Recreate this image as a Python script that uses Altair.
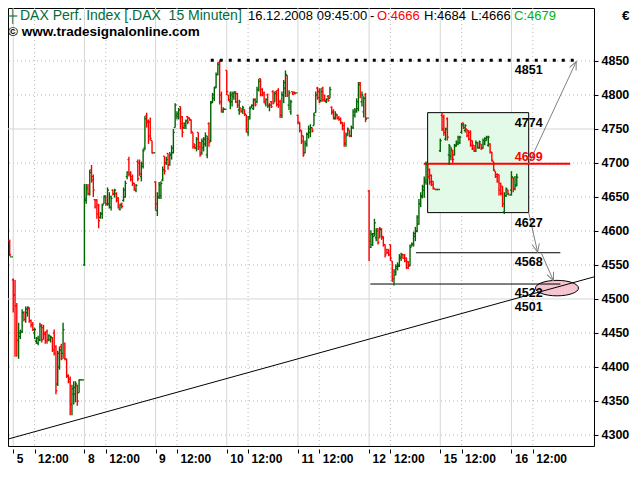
import math
import altair as alt
import pandas as pd

# ---------------- values ----------------
DAY_LABELS = ["5", "8", "9", "10", "11", "12", "15", "16"]
BARS_PER_DAY = 40          # 15-minute bars per session
NOON_BAR = 12              # 12:00 is 12 bars after 09:00

# (open, high, low, close)
PREV_DAY = [(4586, 4587, 4563, 4565), (4562, 4562, 4562, 4562)]

DEC05 = [
    (4528, 4530, 4480, 4506), (4506, 4528, 4415, 4490), (4490, 4494, 4415, 4439), (4439, 4465, 4412, 4450),
    (4445, 4455, 4441, 4452), (4452, 4485, 4450, 4480), (4480, 4482, 4467, 4470), (4470, 4489, 4465, 4485),
    (4480, 4489, 4474, 4488), (4486, 4488, 4465, 4468), (4468, 4470, 4458, 4462), (4462, 4466, 4453, 4455),
    (4450, 4458, 4441, 4455), (4438, 4444, 4434, 4442), (4435, 4446, 4432, 4440), (4440, 4465, 4438, 4460),
    (4462, 4463, 4436, 4440), (4458, 4462, 4440, 4450), (4448, 4452, 4434, 4438), (4452, 4455, 4434, 4440),
    (4440, 4448, 4438, 4446), (4440, 4446, 4436, 4444), (4443, 4444, 4422, 4425), (4450, 4455, 4417, 4420),
    (4430, 4432, 4360, 4365), (4375, 4424, 4372, 4420), (4400, 4430, 4396, 4425), (4430, 4434, 4410, 4412),
    (4420, 4465, 4412, 4455), (4434, 4436, 4410, 4412), (4412, 4412, 4384, 4386), (4388, 4389, 4376, 4378),
    (4382, 4386, 4329, 4345), (4345, 4374, 4329, 4368), (4360, 4379, 4345, 4370), (4360, 4379, 4348, 4375),
    (4372, 4374, 4343, 4350), (4362, 4382, 4362, 4381), (4381, 4381, 4381, 4381), (4381, 4381, 4381, 4381),
]
DEC08 = [
    (4550, 4669, 4549, 4647), (4645, 4669, 4640, 4662), (4665, 4669, 4652, 4655), (4655, 4690, 4652, 4686),
    (4690, 4697, 4671, 4675), (4680, 4683, 4650, 4660), (4646, 4647, 4633, 4635), (4645, 4647, 4618, 4625),
    (4638, 4640, 4604, 4615), (4620, 4628, 4618, 4626), (4625, 4640, 4618, 4638), (4640, 4652, 4640, 4650),
    (4652, 4652, 4637, 4640), (4640, 4664, 4637, 4660), (4640, 4657, 4633, 4650), (4635, 4652, 4630, 4648),
    (4660, 4661, 4652, 4654), (4655, 4662, 4649, 4660), (4655, 4657, 4642, 4645), (4648, 4650, 4633, 4635),
    (4632, 4640, 4630, 4638), (4640, 4642, 4633, 4636), (4645, 4664, 4643, 4660), (4650, 4674, 4649, 4670),
    (4680, 4688, 4676, 4686), (4705, 4709, 4680, 4683), (4685, 4688, 4673, 4676), (4680, 4683, 4666, 4670),
    (4670, 4671, 4659, 4662), (4660, 4669, 4657, 4667), (4702, 4705, 4673, 4677), (4700, 4705, 4681, 4684),
    (4680, 4702, 4673, 4699), (4695, 4721, 4692, 4718), (4722, 4769, 4719, 4765), (4770, 4774, 4752, 4760),
    (4762, 4764, 4728, 4740), (4760, 4767, 4733, 4736), (4733, 4733, 4714, 4715), (4715, 4715, 4715, 4715),
]
DEC09 = [
    (4672, 4673, 4630, 4640), (4630, 4657, 4622, 4650), (4650, 4672, 4647, 4668), (4652, 4673, 4647, 4670),
    (4675, 4695, 4673, 4690), (4710, 4710, 4683, 4688), (4700, 4709, 4697, 4705), (4714, 4714, 4690, 4697),
    (4698, 4716, 4696, 4712), (4712, 4726, 4705, 4722), (4715, 4750, 4714, 4745), (4752, 4788, 4752, 4785),
    (4770, 4776, 4764, 4772), (4768, 4781, 4764, 4778), (4783, 4783, 4750, 4758), (4768, 4769, 4738, 4745),
    (4752, 4760, 4750, 4758), (4755, 4764, 4750, 4762), (4768, 4769, 4757, 4760), (4766, 4767, 4762, 4763),
    (4764, 4764, 4743, 4746), (4745, 4745, 4721, 4724), (4728, 4728, 4721, 4722), (4722, 4738, 4717, 4735),
    (4745, 4745, 4719, 4724), (4730, 4731, 4709, 4712), (4715, 4736, 4712, 4732), (4722, 4738, 4717, 4735),
    (4728, 4745, 4724, 4740), (4712, 4740, 4707, 4735), (4758, 4760, 4724, 4730), (4733, 4791, 4731, 4788),
    (4790, 4803, 4788, 4800), (4795, 4812, 4791, 4810), (4812, 4833, 4810, 4830), (4830, 4848, 4829, 4845),
    (4848, 4851, 4786, 4790), (4800, 4805, 4774, 4778), (4775, 4782, 4774, 4779), (4779, 4779, 4779, 4779),
]
DEC10 = [
    (4836, 4836, 4800, 4805), (4800, 4800, 4791, 4793), (4790, 4805, 4779, 4800), (4790, 4805, 4783, 4802),
    (4798, 4805, 4793, 4803), (4805, 4805, 4788, 4790), (4802, 4803, 4781, 4785), (4778, 4793, 4771, 4790),
    (4781, 4781, 4774, 4776), (4776, 4784, 4772, 4781), (4778, 4779, 4769, 4772), (4771, 4771, 4745, 4750),
    (4745, 4769, 4740, 4765), (4768, 4783, 4764, 4780), (4782, 4786, 4781, 4785), (4780, 4795, 4778, 4793),
    (4793, 4795, 4783, 4786), (4790, 4812, 4788, 4808), (4808, 4824, 4805, 4820), (4824, 4824, 4798, 4800),
    (4808, 4810, 4798, 4800), (4803, 4805, 4788, 4790), (4787, 4795, 4783, 4793), (4800, 4802, 4781, 4785),
    (4784, 4788, 4776, 4785), (4790, 4791, 4781, 4783), (4805, 4807, 4786, 4788), (4790, 4805, 4790, 4802),
    (4805, 4807, 4783, 4786), (4807, 4810, 4781, 4785), (4790, 4793, 4766, 4770), (4770, 4805, 4766, 4800),
    (4800, 4822, 4788, 4818), (4810, 4836, 4797, 4830), (4829, 4829, 4797, 4800), (4785, 4807, 4778, 4803),
    (4775, 4793, 4771, 4790), (4805, 4805, 4800, 4801), (4804, 4805, 4801, 4802), (4803, 4803, 4803, 4803),
]
DEC11 = [
    (4770, 4771, 4757, 4759), (4760, 4760, 4745, 4748), (4748, 4748, 4728, 4732), (4740, 4740, 4709, 4712),
    (4715, 4733, 4714, 4728), (4728, 4745, 4724, 4742), (4742, 4755, 4736, 4750), (4745, 4757, 4738, 4752),
    (4752, 4752, 4745, 4747), (4755, 4774, 4755, 4770), (4774, 4805, 4774, 4800), (4810, 4812, 4793, 4796),
    (4805, 4810, 4788, 4790), (4792, 4810, 4790, 4805), (4810, 4812, 4790, 4793), (4800, 4800, 4790, 4792),
    (4790, 4795, 4788, 4794), (4798, 4800, 4790, 4792), (4795, 4812, 4795, 4808), (4782, 4783, 4771, 4774),
    (4776, 4779, 4764, 4767), (4765, 4776, 4764, 4772), (4770, 4772, 4764, 4766), (4766, 4769, 4762, 4764),
    (4764, 4767, 4757, 4759), (4760, 4760, 4748, 4750), (4755, 4760, 4724, 4730), (4728, 4745, 4724, 4740),
    (4742, 4752, 4740, 4750), (4748, 4748, 4738, 4740), (4740, 4755, 4738, 4752), (4752, 4779, 4750, 4775),
    (4770, 4781, 4767, 4778), (4775, 4795, 4774, 4790), (4780, 4819, 4776, 4815), (4818, 4819, 4795, 4800),
    (4790, 4805, 4783, 4800), (4775, 4798, 4767, 4795), (4800, 4803, 4760, 4764), (4766, 4766, 4766, 4766),
]
DEC12 = [
    (4659, 4660, 4556, 4585), (4576, 4601, 4575, 4595), (4580, 4597, 4578, 4592), (4596, 4618, 4592, 4612),
    (4590, 4604, 4585, 4600), (4603, 4604, 4580, 4583), (4590, 4606, 4590, 4602), (4603, 4604, 4587, 4590),
    (4592, 4592, 4577, 4580), (4580, 4580, 4561, 4565), (4573, 4573, 4566, 4568), (4573, 4573, 4563, 4565),
    (4580, 4580, 4556, 4560), (4556, 4556, 4525, 4530), (4530, 4544, 4520, 4540), (4535, 4551, 4535, 4548),
    (4545, 4554, 4542, 4550), (4548, 4566, 4547, 4562), (4560, 4568, 4556, 4565), (4566, 4566, 4559, 4560),
    (4565, 4566, 4554, 4556), (4560, 4561, 4544, 4546), (4555, 4556, 4544, 4548), (4550, 4580, 4548, 4576),
    (4578, 4583, 4577, 4581), (4580, 4599, 4577, 4596), (4592, 4606, 4585, 4600), (4600, 4623, 4598, 4620),
    (4610, 4647, 4609, 4640), (4640, 4657, 4635, 4652), (4650, 4668, 4648, 4665), (4660, 4680, 4649, 4675),
    (4672, 4702, 4668, 4698), (4698, 4700, 4676, 4680), (4690, 4692, 4668, 4672), (4682, 4683, 4666, 4668),
    (4673, 4673, 4661, 4663), (4662, 4662, 4661, 4661), (4661, 4661, 4661, 4661), (4661, 4661, 4661, 4661),
]
DEC15 = [
    (4718, 4736, 4716, 4733), (4770, 4774, 4747, 4750), (4768, 4771, 4740, 4745), (4735, 4752, 4733, 4750),
    (4765, 4767, 4733, 4738), (4712, 4728, 4697, 4725), (4710, 4724, 4704, 4720), (4718, 4719, 4700, 4705),
    (4712, 4728, 4711, 4725), (4726, 4733, 4724, 4731), (4728, 4740, 4726, 4738), (4730, 4740, 4728, 4738),
    (4745, 4759, 4743, 4756), (4759, 4759, 4750, 4752), (4748, 4757, 4745, 4755), (4750, 4750, 4738, 4740),
    (4747, 4748, 4733, 4735), (4745, 4748, 4724, 4726), (4733, 4733, 4719, 4721), (4726, 4726, 4716, 4718),
    (4718, 4733, 4716, 4730), (4730, 4731, 4721, 4723), (4722, 4733, 4721, 4731), (4728, 4728, 4719, 4721),
    (4722, 4736, 4721, 4733), (4728, 4738, 4726, 4736), (4733, 4740, 4733, 4738), (4726, 4740, 4724, 4738),
    (4728, 4729, 4714, 4716), (4716, 4716, 4702, 4704), (4702, 4702, 4688, 4690), (4688, 4688, 4678, 4680),
    (4683, 4685, 4671, 4673), (4683, 4683, 4652, 4660), (4670, 4671, 4652, 4655), (4666, 4666, 4635, 4640),
    (4628, 4657, 4625, 4652), (4652, 4664, 4650, 4662), (4660, 4661, 4653, 4655), (4653, 4653, 4653, 4653),
]
DEC16 = [(4660, 4688, 4652, 4680), (4678, 4679, 4657, 4662), (4662, 4681, 4660, 4668), (4666, 4684, 4666, 4679)]
DAYS = [DEC05, DEC08, DEC09, DEC10, DEC11, DEC12, DEC15, DEC16]

# drawn annotations (bar index, price)
TREND = [(-2.95, 4294.0), (326.4, 4532.5)]
DOTTED_LEVEL = [(111, 4851), (318, 4851)]
RED_LEVEL = [(230.7, 4699), (313, 4699)]
BLACK_LEVELS = [(226.3, 307.5, 4568), (200.7, 307.5, 4522)]
BOX = (232.9, 289.7, 4627, 4774)
ELLIPSE = (305.6, 4516)
ARROWS = [((289.7, 4699), (316.4, 4849)), ((289.7, 4627), (294.7, 4569)), ((296.9, 4567), (303.6, 4527))]
LABEL_X = 281.9
LABELS = [("4851", 4851), ("4774", 4774), ("4699", 4699), ("4627", 4627), ("4568", 4568), ("4522", 4522), ("4501", 4501)]
Y_TICKS = list(range(4300, 4851, 50))

# ---------------- layout / style ----------------
W, H = 586, 438
X_DOMAIN = [-2.95, 326.4]
Y_DOMAIN = [4283.8, 4927.9]
GREEN, RED = "#006400", "#ff0000"
FONT = "Liberation Sans"
LABEL_STYLE = {"4851": (4, "top", "black"), "4774": (4, "top", "black"), "4699": (-3, "alphabetic", RED),
               "4627": (4, "top", "black"), "4568": (3, "top", "black"), "4522": (3, "top", "black"),
               "4501": (3, "top", "black")}

rows = []
for i, (o, h, l, c) in enumerate(PREV_DAY):
    rows.append(dict(g=i - len(PREV_DAY), o=o, h=h, l=l, c=c))
for d, day in enumerate(DAYS):
    for k, (o, h, l, c) in enumerate(day):
        rows.append(dict(g=d * BARS_PER_DAY + k, o=o, h=h, l=l, c=c))
bars = pd.DataFrame(rows)
bars["dir"] = ["up" if c >= o else "down" for o, c in zip(bars.o, bars.c)]
bars["gl"] = bars.g - 0.8
bars["gr"] = bars.g + 0.8

xs = alt.Scale(domain=X_DOMAIN, nice=False, zero=False)
ys = alt.Scale(domain=Y_DOMAIN, nice=False, zero=False)
col = alt.Color("dir:N", scale=alt.Scale(domain=["up", "down"], range=[GREEN, RED]), legend=None)

day_ticks = [d * BARS_PER_DAY for d in range(len(DAY_LABELS))]
noon_ticks = [t + NOON_BAR for t in day_ticks]
parts = []
for t, lab in zip(day_ticks, DAY_LABELS):
    parts.append(f"datum.value == {t} ? '{lab}'")
    parts.append(f"datum.value == {t + NOON_BAR} ? '12:00'")
label_expr = " : ".join(parts) + " : ''"

x_axis = alt.Axis(values=sorted(day_ticks + noon_ticks), labelExpr=label_expr, orient="bottom", grid=False,
                  domain=False, ticks=True, tickSize=4, tickColor="black", offset=3, labelAlign="left",
                  labelOffset=3, labelPadding=0, labelFont=FONT, labelFontSize=12, labelFontWeight="bold",
                  labelColor="black", labelOverlap=False, labelFlush=False, title=None)
y_axis = alt.Axis(values=Y_TICKS, format="d", orient="right", grid=False, domain=False, tickSize=4,
                  tickColor="black", labelPadding=3, labelFont=FONT, labelFontSize=12.5, labelFontWeight="bold",
                  labelColor="black", labelOverlap=False, labelFlush=False, title=None)


def X(f):
    return alt.X(f, type="quantitative", scale=xs, axis=x_axis)


def Y(f):
    return alt.Y(f, type="quantitative", scale=ys, axis=y_axis)


one = pd.DataFrame({"a": [0]})

# grid
hgrid = pd.DataFrame({"v": Y_TICKS})
hgrid["solid"] = [v % 250 == 0 for v in Y_TICKS]
grid_h_dot = alt.Chart(hgrid[~hgrid.solid]).mark_rule(color="#b8b8b8", strokeDash=[1, 3]).encode(y=Y("v"))
grid_h_sol = alt.Chart(hgrid[hgrid.solid]).mark_rule(color="#d6d6d6").encode(y=Y("v"))
grid_v_dot = alt.Chart(pd.DataFrame({"g": noon_ticks})).mark_rule(color="#b8b8b8", strokeDash=[1, 3]).encode(x=X("g"))
grid_v_sol = alt.Chart(pd.DataFrame({"g": day_ticks})).mark_rule(color="#d6d6d6").encode(x=X("g"))

# box
box_df = pd.DataFrame([dict(g1=BOX[0], g2=BOX[1], v1=BOX[2], v2=BOX[3])])
box = alt.Chart(box_df).mark_rect(fill="#e4fae8", stroke="black", strokeWidth=1).encode(
    x=X("g1"), x2="g2:Q", y=Y("v1"), y2="v2:Q")

# ellipse
ell_path = "M -1 0 A 1 0.36 0 1 1 1 0 A 1 0.36 0 1 1 -1 0 Z"
ell = alt.Chart(pd.DataFrame([dict(g=ELLIPSE[0], v=ELLIPSE[1])])).mark_point(
    shape=ell_path, size=43 * 43, filled=True, fill="#f5c6cf", stroke="black", strokeWidth=1, opacity=1).encode(
    x=X("g"), y=Y("v"))

# trend line
trend = alt.Chart(pd.DataFrame([dict(g1=TREND[0][0], v1=TREND[0][1], g2=TREND[1][0], v2=TREND[1][1])])).mark_rule(
    color="black", strokeWidth=1).encode(x=X("g1"), x2="g2:Q", y=Y("v1"), y2="v2:Q")

lv_df = pd.DataFrame([dict(g1=a, g2=b, v=v) for a, b, v in BLACK_LEVELS])
levels = alt.Chart(lv_df).mark_rule(color="black", strokeWidth=1).encode(x=X("g1"), x2="g2:Q", y=Y("v"))
red_df = pd.DataFrame([dict(g1=RED_LEVEL[0][0], g2=RED_LEVEL[1][0], v=RED_LEVEL[0][1])])
red_level = alt.Chart(red_df).mark_rule(color=RED, strokeWidth=2).encode(x=X("g1"), x2="g2:Q", y=Y("v"))
dot_df = pd.DataFrame([dict(g1=DOTTED_LEVEL[0][0], g2=DOTTED_LEVEL[1][0], v=DOTTED_LEVEL[0][1])])
dot_level = alt.Chart(dot_df).mark_rule(color="black", strokeWidth=3, strokeDash=[3, 6]).encode(
    x=X("g1"), x2="g2:Q", y=Y("v"))

# OHLC bars
hl = alt.Chart(bars).mark_rule(strokeWidth=1.4).encode(x=X("g"), y=Y("l"), y2="h:Q", color=col)
otick = alt.Chart(bars).mark_rule(strokeWidth=1.3).encode(x=X("gl"), x2="g:Q", y=Y("o"), color=col)
ctick = alt.Chart(bars).mark_rule(strokeWidth=1.3).encode(x=X("g"), x2="gr:Q", y=Y("c"), color=col)

# arrows
pxg = W / (X_DOMAIN[1] - X_DOMAIN[0])
pxv = H / (Y_DOMAIN[1] - Y_DOMAIN[0])
arr_rows = []
for (g1, v1), (g2, v2) in ARROWS:
    dx = (g2 - g1) * pxg
    dy = -(v2 - v1) * pxv
    ang = math.degrees(math.atan2(dx, -dy)) % 360
    arr_rows.append(dict(g1=g1, v1=v1, g2=g2, v2=v2, ang=ang))
arr_df = pd.DataFrame(arr_rows)
arrow_lines = alt.Chart(arr_df).mark_rule(color="#808080", strokeWidth=1).encode(
    x=X("g1"), x2="g2:Q", y=Y("v1"), y2="v2:Q")
arrow_heads = alt.Chart(arr_df).mark_point(shape="M -0.45 1 L 0 0 L 0.45 1", size=256, filled=False,
                                           stroke="#808080", strokeWidth=1, opacity=1).encode(
    x=X("g2"), y=Y("v2"), angle=alt.Angle("ang:Q", scale=None))

# level labels
label_layers = []
for txt, v in LABELS:
    dy, base, colr = LABEL_STYLE[txt]
    label_layers.append(
        alt.Chart(pd.DataFrame([dict(g=LABEL_X, v=v, t=txt)])).mark_text(
            align="left", baseline=base, dy=dy, font=FONT, fontSize=12.5, fontWeight="bold", color=colr).encode(
            x=X("g"), y=Y("v"), text="t:N"))

# header texts (x, y in pixels of the plot area)
TITLE_GREEN = "#006e3a"
HEADER = [
    ("\u253c", 0, 8, TITLE_GREEN, "normal", 13),
    ("DAX Perf. Index [.DAX \u00a015 Minuten]", 12, 8, TITLE_GREEN, "normal", 14),
    ("16.12.2008 09:45:00", 240, 8, "black", "normal", 13),
    ("-", 362, 8, "black", "normal", 13),
    ("O:4666", 369, 8, RED, "normal", 13),
    ("H:4684", 416, 8, "black", "normal", 13),
    ("L:4666", 463, 8, "black", "normal", 13),
    ("C:4679", 506, 8, "#00b400", "normal", 13),
    ("\u00a9 www.tradesignalonline.com", 0, 24, "black", "bold", 13.5),
    ("\u20ac", 614, 8, "black", "bold", 13.5),
]
header_layers = []
for txt, x, y, colr, wt, fs in HEADER:
    header_layers.append(alt.Chart(one).mark_text(align="left", baseline="middle", font=FONT, fontSize=fs,
                                                  fontWeight=wt, color=colr).encode(
        x=alt.value(x), y=alt.value(y), text=alt.value(txt)))

chart = alt.layer(
    grid_h_dot, grid_h_sol, grid_v_dot, grid_v_sol, box, ell, trend, levels, red_level,
    hl, otick, ctick, dot_level, arrow_lines, arrow_heads, *label_layers, *header_layers
).properties(
    width=W, height=H, autosize=alt.AutoSizeParams(type="none"),
    padding={"left": 0, "top": 0, "right": 38, "bottom": 20},
    background="white",
).configure_view(stroke="black", strokeWidth=1)

chart.save("out.html", embed_options={"renderer": "svg", "actions": False})
